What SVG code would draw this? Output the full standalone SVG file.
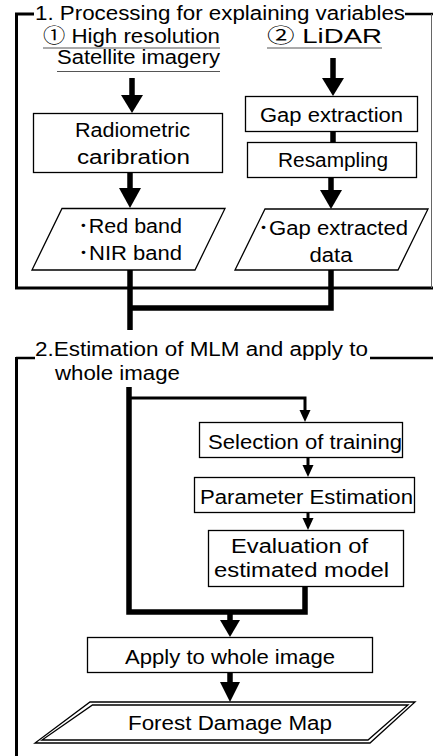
<svg xmlns="http://www.w3.org/2000/svg" width="433" height="756" viewBox="0 0 433 756">
<style>
text{font-family:"Liberation Sans","Noto Sans CJK JP",Arial,sans-serif;font-size:20px;fill:#000}
.c{text-anchor:middle}
.box{fill:#fff;stroke:#000;stroke-width:1.3}
.frame{fill:none;stroke:#000;stroke-width:3}
.ul{stroke:#555;stroke-width:1}
.thick{fill:none;stroke:#000;stroke-width:5.5}
.thin{fill:none;stroke:#000;stroke-width:3}
.head{fill:#000}
</style>
<rect width="433" height="756" fill="#fff"/>
<g id="frame1">
<polyline class="frame" points="34,14 16.5,14 16.5,288 433,288"/>
<line x1="405" y1="14" x2="433" y2="14" stroke="#000" stroke-width="2.5"/>
<line x1="431.5" y1="14" x2="431.5" y2="288" stroke="#666" stroke-width="1"/>
<text x="35" y="20" textLength="370" lengthAdjust="spacingAndGlyphs">1. Processing for explaining variables</text>
</g>
<g id="src1">
<text x="43" y="43" textLength="177" lengthAdjust="spacingAndGlyphs">① High resolution</text>
<line class="ul" x1="43" y1="48" x2="220" y2="48"/>
<text x="57" y="64" textLength="163" lengthAdjust="spacingAndGlyphs">Satellite imagery</text>
<line class="ul" x1="57" y1="71.5" x2="220" y2="71.5"/>
</g>
<g id="src2">
<text x="267" y="43" textLength="115" lengthAdjust="spacingAndGlyphs">② LiDAR</text>
<line class="ul" x1="267" y1="48" x2="382" y2="48"/>
</g>
<g id="radiometric">
<rect class="box" x="33.5" y="113.5" width="189" height="59"/>
<text x="75" y="137" textLength="115" lengthAdjust="spacingAndGlyphs">Radiometric</text>
<text x="77" y="164" textLength="113" lengthAdjust="spacingAndGlyphs">caribration</text>
</g>
<g id="gap">
<rect class="box" x="245.5" y="96.5" width="172" height="35"/>
<text x="260" y="122" textLength="143" lengthAdjust="spacingAndGlyphs">Gap extraction</text>
</g>
<g id="resampling">
<rect class="box" x="247.5" y="142.5" width="169" height="35"/>
<text x="278" y="167" textLength="110" lengthAdjust="spacingAndGlyphs">Resampling</text>
</g>
<g id="bands">
<polygon class="box" points="62,208.5 225,208.5 195,270 32,270"/>
<text x="78" y="233" textLength="104" lengthAdjust="spacingAndGlyphs">･Red band</text>
<text x="78" y="260" textLength="104" lengthAdjust="spacingAndGlyphs">･NIR band</text>
</g>
<g id="gapdata">
<polygon class="box" points="265,209 428,209 398,270 235,270"/>
<text x="258" y="235" textLength="150" lengthAdjust="spacingAndGlyphs">･Gap extracted</text>
<text x="331" y="262" class="c" textLength="43" lengthAdjust="spacingAndGlyphs">data</text>
</g>
<g id="frame2">
<line x1="16" y1="358" x2="35" y2="358" stroke="#000" stroke-width="2.5"/>
<line x1="370" y1="358" x2="433" y2="358" stroke="#000" stroke-width="2.5"/>
<line x1="16.5" y1="357" x2="16.5" y2="756" stroke="#000" stroke-width="3"/>
<text x="35" y="356" textLength="333" lengthAdjust="spacingAndGlyphs">2.Estimation of MLM and apply to</text>
<text x="55" y="380" textLength="125" lengthAdjust="spacingAndGlyphs">whole image</text>
</g>
<g id="selection">
<rect class="box" x="199.5" y="422.5" width="203" height="35"/>
<text x="208" y="449" textLength="194" lengthAdjust="spacingAndGlyphs">Selection of training</text>
</g>
<g id="parameter">
<rect class="box" x="194.5" y="477.5" width="220" height="35"/>
<text x="200" y="504" textLength="213" lengthAdjust="spacingAndGlyphs">Parameter Estimation</text>
</g>
<g id="evaluation">
<rect class="box" x="208.5" y="530.5" width="195" height="56"/>
<text x="231" y="553" textLength="137" lengthAdjust="spacingAndGlyphs">Evaluation of</text>
<text x="214" y="577" textLength="175" lengthAdjust="spacingAndGlyphs">estimated model</text>
</g>
<g id="apply">
<rect class="box" x="87.5" y="637.5" width="285" height="35"/>
<text x="125" y="664" textLength="210" lengthAdjust="spacingAndGlyphs">Apply to whole image</text>
</g>
<g id="forest">
<polygon fill="#fff" stroke="#000" stroke-width="1.3" points="90,702 415,702 370,743 35,743"/>
<polygon fill="none" stroke="#000" stroke-width="1.3" points="92.5,705 408,705 368,740 42,740"/>
<text x="128" y="730" textLength="204" lengthAdjust="spacingAndGlyphs">Forest Damage Map</text>
</g>
<g id="connectors">
<line class="thick" x1="132" y1="78" x2="132" y2="97"/>
<polygon class="head" points="121,95 143,95 132,113"/>
<line class="thick" x1="333" y1="58" x2="333" y2="80"/>
<polygon class="head" points="322,78 344,78 333,96"/>
<line class="thick" x1="333" y1="132" x2="333" y2="142"/>
<line class="thick" x1="130" y1="173" x2="130" y2="190"/>
<polygon class="head" points="119,188 141,188 130,208"/>
<line class="thick" x1="331" y1="178" x2="331" y2="192"/>
<polygon class="head" points="320,190 342,190 331,209"/>
<polyline class="thick" points="130,270 130,330"/>
<polyline class="thick" points="331,270 331,308 130,308"/>
<polyline class="thick" points="129,387 129,612 305,612 305,587"/>
<polyline class="thin" points="129,398 305,398 305,412"/>
<polygon class="head" points="299.5,410 310.5,410 305,422"/>
<line class="thin" x1="308" y1="458" x2="308" y2="467"/>
<polygon class="head" points="302.5,465 313.5,465 308,477"/>
<line class="thin" x1="308" y1="513" x2="308" y2="520"/>
<polygon class="head" points="302.5,518 313.5,518 308,530"/>
<line class="thick" x1="230" y1="612" x2="230" y2="622"/>
<polygon class="head" points="220,620 240,620 230,637"/>
<line class="thick" x1="230" y1="673" x2="230" y2="684"/>
<polygon class="head" points="220,682 240,682 230,702"/>
</g>
</svg>
